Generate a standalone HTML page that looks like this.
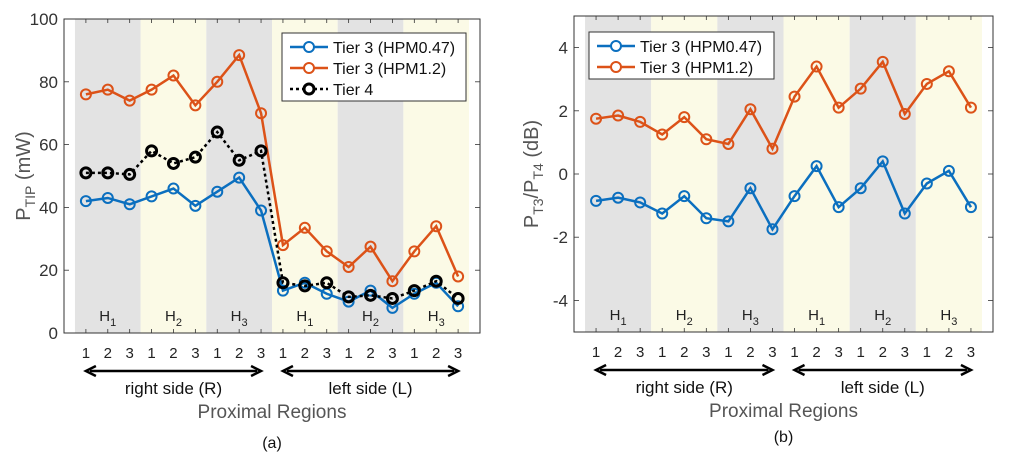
<!DOCTYPE html>
<html><head><meta charset="utf-8"><style>
html,body{margin:0;padding:0;background:#fff}
svg{display:block;font-family:"Liberation Sans",Arial,sans-serif}
</style></head><body>
<svg id="fig" width="1015" height="467" viewBox="0 0 1015 467" xmlns="http://www.w3.org/2000/svg"></svg>
<script>
const regionTicks=["1","2","3","1","2","3","1","2","3","1","2","3","1","2","3","1","2","3"];
const hGroups=["H1","H2","H3","H1","H2","H3"];
const aBlue=[42,43,41,43.5,46,40.5,45,49.5,39,13.5,16,12.5,10,13.5,8,12.5,16,8.5];
const aOrange=[76,77.5,74,77.5,82,72.5,80,88.5,70,28,33.5,26,21,27.5,16.5,26,34,18];
const aBlack=[51,51,50.5,58,54,56,64,55,58,16,15,16,11.5,12,11,13.5,16.5,11];
const aYTicks=[0,20,40,60,80,100];
const bBlue=[-0.85,-0.75,-0.9,-1.25,-0.7,-1.4,-1.5,-0.45,-1.75,-0.7,0.25,-1.05,-0.45,0.4,-1.25,-0.3,0.1,-1.05];
const bOrange=[1.75,1.85,1.65,1.25,1.8,1.1,0.95,2.05,0.8,2.45,3.4,2.1,2.7,3.55,1.9,2.85,3.25,2.1];
const bYTicks=[-4,-2,0,2,4];

const NS="http://www.w3.org/2000/svg";
const svg=document.getElementById('fig');
function mk(tag,attrs,parent,text){const e=document.createElementNS(NS,tag);for(const k in attrs)e.setAttribute(k,attrs[k]);if(text!==undefined)e.textContent=text;(parent||svg).appendChild(e);return e;}

function chart(o){
  const g=mk('g',{});
  
  
  const xs=v=>o.L+(o.R-o.L)*v/19;
  const ys=v=>o.B-(o.B-o.T)*(v-o.ymin)/(o.ymax-o.ymin);
  for(let i=0;i<6;i++){
    const r=mk('rect',{x:xs(0.5+3*i),y:o.T,width:xs(3.5)-xs(0.5),height:o.B-o.T,fill:(i%2===0)?'#e3e3e3':'#fbfae6'},g);
    
    
    const t=mk('text',{x:xs(2+3*i),y:o.B-12,'font-size':15,fill:'#222','text-anchor':'middle'},g);
    
    
    mk('tspan',{},t,hGroups[i][0]);
    mk('tspan',{dy:5,'font-size':11},t,hGroups[i].slice(1));
  }
  for(let i=1;i<=18;i++){
    mk('line',{x1:xs(i),x2:xs(i),y1:o.B,y2:o.B-4,stroke:'#333','stroke-width':0.8},g);
    mk('line',{x1:xs(i),x2:xs(i),y1:o.T,y2:o.T+4,stroke:'#333','stroke-width':0.8},g);
    const t=mk('text',{x:xs(i),y:o.B+25,'font-size':15,fill:'#222','text-anchor':'middle'},g,regionTicks[i-1]);
    
    
  }
  o.yticks.forEach(v=>{
    mk('line',{x1:o.L,x2:o.L+5,y1:ys(v),y2:ys(v),stroke:'#333','stroke-width':0.8},g);
    mk('line',{x1:o.R,x2:o.R-5,y1:ys(v),y2:ys(v),stroke:'#333','stroke-width':0.8},g);
    const t=mk('text',{x:o.L-6,y:ys(v)+6,'font-size':17,fill:'#333','text-anchor':'end'},g,v);
    
    
  });
  mk('rect',{x:o.L,y:o.T,width:o.R-o.L,height:o.B-o.T,fill:'none',stroke:'#333','stroke-width':1},g);
  o.series.forEach(s=>{
    const pts=s.data.map((v,i)=>xs(i+1)+','+ys(v)).join(' ');
    const pl=mk('polyline',{points:pts,fill:'none',stroke:s.color,'stroke-width':2.5,'stroke-dasharray':s.dash||'none'},g);
    
    
    s.data.forEach((v,i)=>{
      const c=mk('circle',{cx:xs(i+1),cy:ys(v),r:5,fill:'none',stroke:s.color,'stroke-width':s.dash?3:2},g);
      
      
    });
  });
  const lg=mk('g',{},g);
  
  
  mk('rect',{x:o.lx,y:o.ly,width:o.lw,height:o.series.length*21+5,fill:'#fff',stroke:'#333','stroke-width':1},lg);
  o.series.forEach((s,i)=>{
    const y=o.ly+14+i*21;
    mk('line',{x1:o.lx+8,x2:o.lx+46,y1:y,y2:y,stroke:s.color,'stroke-width':2.5,'stroke-dasharray':s.dash||'none'},lg);
    mk('circle',{cx:o.lx+27,cy:y,r:5,fill:'#fff',stroke:s.color,'stroke-width':s.dash?3:2},lg);
    const t=mk('text',{x:o.lx+51,y:y+6,'font-size':16,fill:'#111'},lg,s.label);
    
    
  });
  const ay=o.B+38;
  [[1,9,'right side (R)'],[10,18,'left side (L)']].forEach(a=>{
    const x1=xs(a[0]),x2=xs(a[1]);
    mk('line',{x1:x1+4,x2:x2-4,y1:ay,y2:ay,stroke:'#000','stroke-width':2.5},g);
    mk('path',{d:`M${x1+10},${ay-5} L${x1},${ay} L${x1+10},${ay+5}`,fill:'none',stroke:'#000','stroke-width':2.5},g);
    mk('path',{d:`M${x2-10},${ay-5} L${x2},${ay} L${x2-10},${ay+5}`,fill:'none',stroke:'#000','stroke-width':2.5},g);
    const t=mk('text',{x:(x1+x2)/2,y:ay+23,'font-size':17,fill:'#111','text-anchor':'middle'},g,a[2]);
    
    
  });
  const xt=mk('text',{x:xs(9.5),y:o.B+85,'font-size':19,fill:'#555','text-anchor':'middle'},g,'Proximal Regions');
  
  
  const cap=mk('text',{x:xs(9.5),y:o.B+o.capdy,'font-size':16,fill:'#111','text-anchor':'middle'},g,o.caption);
  
  
  const yt=mk('text',{transform:`translate(${o.ytx},${(o.T+o.B)/2}) rotate(-90)`,'font-size':20,fill:'#555','text-anchor':'middle'},g);
  
  
  o.ytitle.forEach(p=>mk('tspan',p.sub?{dy:p.dy,'font-size':14}:{dy:p.dy||0},yt,p.t));
}

chart({name:'chart-a',L:64,R:480,T:19,B:333,ymin:0,ymax:100,yticks:aYTicks,caption:'(a)',capdy:115,ytx:30,
  lx:282,ly:33,lw:184,
  ytitle:[{t:'P'},{t:'TIP',sub:1,dy:5},{t:' (mW)',dy:-5}],
  series:[{name:'tier3-hpm047',label:'Tier 3 (HPM0.47)',color:'#0b6fbf',data:aBlue},
          {name:'tier3-hpm12',label:'Tier 3 (HPM1.2)',color:'#dc5218',data:aOrange},
          {name:'tier4',label:'Tier 4',color:'#000',dash:'3,3',data:aBlack}]});
chart({name:'chart-b',L:574,R:993,T:16,B:332,ymin:-5,ymax:5,yticks:bYTicks,caption:'(b)',capdy:110,ytx:538,
  lx:589,ly:32,lw:185,
  ytitle:[{t:'P'},{t:'T3',sub:1,dy:5},{t:'/P',dy:-5},{t:'T4',sub:1,dy:5},{t:' (dB)',dy:-5}],
  series:[{name:'tier3-hpm047',label:'Tier 3 (HPM0.47)',color:'#0b6fbf',data:bBlue},
          {name:'tier3-hpm12',label:'Tier 3 (HPM1.2)',color:'#dc5218',data:bOrange}]});
</script>
</body></html>
